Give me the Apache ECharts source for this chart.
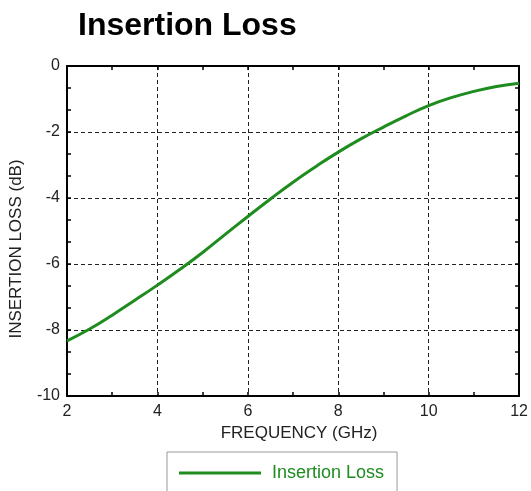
<!DOCTYPE html>
<html>
<head>
<meta charset="utf-8">
<script src="https://cdn.jsdelivr.net/npm/echarts@6/dist/echarts.min.js"></script>
<style>
  html, body { margin: 0; padding: 0; background: #fff; }
  #chart-container { width: 531px; height: 491px; }
</style>
</head>
<body>
<div id="chart-container"></div>
<script>
// 频率 (GHz)
var freq = [2, 2.5, 3, 3.5, 4, 4.5, 5, 5.5, 6, 6.5, 7, 7.5, 8, 8.5, 9, 9.5, 10, 10.5, 11, 11.5, 12];
// 插入损耗 (dB)
var loss = [-8.33, -7.97, -7.55, -7.10, -6.64, -6.16, -5.65, -5.10, -4.56, -4.03, -3.52, -3.05, -2.61, -2.21, -1.85, -1.51, -1.20, -0.96, -0.77, -0.62, -0.52];
var xTicks = [2, 4, 6, 8, 10, 12];
var yTicks = [0, -2, -4, -6, -8, -10];

var myChart = echarts.init(document.getElementById('chart-container'));

var font = 'Liberation Sans, Arial, sans-serif';
var gridLine = { show: true, lineStyle: { color: '#222', type: [4, 3], width: 1 } };
var frame = { show: true, onZero: false, lineStyle: { color: '#000', width: 2 } };
var ticks = { show: true, inside: true, length: 4, lineStyle: { color: '#000', width: 1.5 } };

var option = {
    animation: false,
    title: {
        text: 'Insertion Loss',
        left: 73,
        top: 5,
        textStyle: { fontFamily: font, fontSize: 32, fontWeight: 'bold', color: '#000' }
    },
    legend: {
        data: ['Insertion Loss'],
        top: 452,
        left: 167,
        width: 233,
        padding: [12, 13, 30, 12],
        borderColor: '#999',
        borderWidth: 1,
        itemWidth: 82,
        itemHeight: 3,
        icon: 'rect',
        textStyle: { fontFamily: font, fontSize: 18, color: '#1e8c1e', padding: [0, 0, 0, 6] }
    },
    grid: { left: 63, right: 10, top: 66, bottom: 95 },
    xAxis: [{
        type: 'value',
        min: 2, max: 12, interval: 2,
        name: 'FREQUENCY (GHz)',
        nameLocation: 'middle',
        nameGap: 28,
        nameTextStyle: { fontFamily: font, fontSize: 17, color: '#222', padding: [0, 0, 0, 12] },
        axisLine: frame,
        axisTick: ticks,
        minorTick: { show: true, splitNumber: 2, length: 4, lineStyle: { color: '#000', width: 1.5 } },
        axisLabel: { fontFamily: font, fontSize: 16, color: '#222', margin: 8 },
        splitLine: gridLine
    }, {
        type: 'value',
        position: 'top',
        min: 2, max: 12, interval: 2,
        axisLine: frame,
        axisTick: ticks,
        minorTick: { show: true, splitNumber: 2, length: 4, lineStyle: { color: '#000', width: 1.5 } },
        axisLabel: { show: false },
        splitLine: { show: false }
    }],
    yAxis: [{
        type: 'value',
        min: -10, max: 0, interval: 2,
        name: 'INSERTION LOSS (dB)',
        nameLocation: 'middle',
        nameGap: 42,
        nameTextStyle: { fontFamily: font, fontSize: 17, color: '#222', padding: [0, 36, 0, 0] },
        axisLine: frame,
        axisTick: ticks,
        minorTick: { show: true, splitNumber: 3, length: 4, lineStyle: { color: '#000', width: 1.5 } },
        axisLabel: { fontFamily: font, fontSize: 16, color: '#222', margin: 7 },
        splitLine: gridLine
    }, {
        type: 'value',
        position: 'right',
        min: -10, max: 0, interval: 2,
        axisLine: frame,
        axisTick: ticks,
        minorTick: { show: true, splitNumber: 3, length: 4, lineStyle: { color: '#000', width: 1.5 } },
        axisLabel: { show: false },
        splitLine: { show: false }
    }],
    series: [{
        name: 'Insertion Loss',
        type: 'line',
        smooth: true,
        showSymbol: false,
        data: freq.map(function (f, i) { return [f, loss[i]]; }),
        lineStyle: { color: '#1e8c1e', width: 3 },
        itemStyle: { color: '#1e8c1e' }
    }]
};

myChart.setOption(option);
</script>
</body>
</html>
